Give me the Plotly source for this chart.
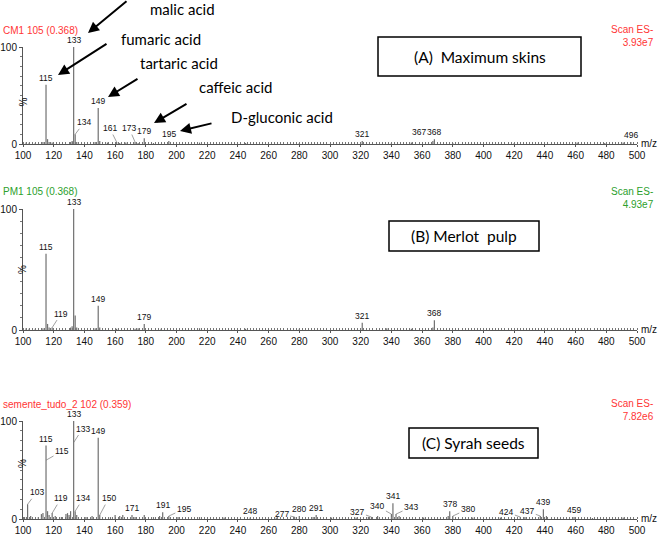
import plotly.graph_objects as go

W, H = 661, 535

# ---------------- data ----------------
# Panel A: Maximum skins (CM1)
a_mz = [102, 104, 108, 113, 115, 116, 117, 119, 131, 132, 133, 134, 135, 147, 149, 150, 155, 161, 163,
        167, 173, 175, 179, 185, 195, 215, 245, 280, 321, 340, 353, 367, 368, 380, 420, 461, 479, 491, 496]
a_int = [1.5, 1.2, 1, 2, 61, 5, 2, 1.5, 2, 3, 100, 10, 2, 2, 37, 3, 1.5, 2, 1,
         1.5, 2, 1, 6, 1, 3, 1.5, 1, 1, 3, 1, 1.5, 3, 5, 1, 1, 1.5, 1, 1.5, 2]
a_labels = ["115", "133", "134", "149", "161", "173", "179", "195", "321", "367", "368", "496"]

# Panel B: Merlot pulp (PM1)
b_mz = [102, 104, 108, 113, 115, 116, 117, 119, 131, 132, 133, 134, 135, 147, 149, 150, 161, 173,
        175, 179, 190, 215, 245, 280, 321, 337, 353, 367, 368]
b_int = [1.5, 1, 1, 1.5, 63, 5, 2, 2, 2, 3, 100, 12, 2, 1.5, 20, 2, 1, 1,
         1.5, 5, 1, 1.5, 1, 1, 6, 1.5, 1, 2, 8]
b_labels = ["115", "133", "119", "149", "179", "321", "368"]

# Panel C: Syrah seeds (semente_tudo_2)
c_mz = [101, 103, 105, 110, 112, 113, 115, 116, 117, 119, 121, 125, 128, 129, 130, 131, 133, 134, 135,
        141, 145, 149, 150, 157, 160, 163, 165, 171, 173, 179, 185, 189, 191, 195, 201, 215, 231, 248,
        265, 277, 280, 289, 291, 301, 317, 325, 327, 331, 340, 341, 343, 345, 361, 377, 378, 380,
        393, 411, 424, 427, 437, 439, 441, 459, 471, 491]
c_int = [2, 15, 3, 2, 5, 6, 75, 8, 4, 6, 3, 2, 5, 6, 4, 8, 100, 8, 4,
         2, 3, 83, 4, 2, 4, 3, 4, 4, 2, 4, 2, 3, 7, 3, 2, 2, 1.5, 1.5,
         1.5, 2, 3, 2, 4, 1.5, 1.5, 2, 2, 3, 5, 16, 5, 3, 1.5, 3, 8, 3,
         1.5, 1.5, 2, 2, 3, 10, 3, 2, 1, 1.5]
c_labels = ["133", "133b", "115", "115b", "149", "103", "119", "134", "150", "171", "191", "195", "248",
            "277", "280", "291", "327", "340", "341", "343", "378", "380", "424", "437", "439", "459"]

x_ticks = list(range(100, 501, 20))

# ---------------- styling ----------------
NUM_FONT = "Liberation Sans, Arial, sans-serif"
CALLOUT_FONT = "Lato, Open Sans, sans-serif"
RED = "#ff3535"
GREEN = "#2ca02c"
STICK = "#707070"

# label leader offsets in pixels (label relative to the point on the peak)
a_lead = {"134": (9, -12), "161": (-7, -14), "173": (-6, -14), "367": None}
b_lead = {"119": (9, -14)}
c_lead = {"133b": (9, -14, 0.78), "115b": (16, -9, 0.8), "103": (9, -12), "119": (9, -15),
          "134": (8, -13), "150": (9, -17), "195": (15, -7), "277": (-13, -3), "327": (-14, -5),
          "340": (-14, -8), "343": (15, -7), "380": (15, -7), "424": (-14, -5), "437": (-13, -5)}


def px(x):
    return x / W


def py(y):
    return 1 - y / H


panels = [
    dict(mz=a_mz, inten=a_int, labels=a_labels, lead=a_lead, ytop=47, ybot=144, color=RED,
         head="CM1 105 (0.368)", scan="Scan ES-<br>3.93e7"),
    dict(mz=b_mz, inten=b_int, labels=b_labels, lead=b_lead, ytop=209, ybot=330, color=GREEN,
         head="PM1 105 (0.368)", scan="Scan ES-<br>4.93e7"),
    dict(mz=c_mz, inten=c_int, labels=c_labels, lead=c_lead, ytop=421, ybot=519, color=RED,
         head="semente_tudo_2 102 (0.359)", scan="Scan ES-<br>7.82e6"),
]

X0, X1 = 23, 637

fig = go.Figure()
annotations = []
shapes = []
layout = {}

for i, p in enumerate(panels):
    n = "" if i == 0 else str(i + 1)
    xa, ya = "x" + n, "y" + n
    xs, ys = [], []
    for m, v in zip(p["mz"], p["inten"]):
        xs += [m, m, None]
        ys += [0, v, None]
    fig.add_trace(go.Scatter(x=xs, y=ys, mode="lines", line=dict(color=STICK, width=1.2),
                             xaxis=xa, yaxis=ya, showlegend=False, hoverinfo="skip"))

    layout["xaxis" + n] = dict(
        domain=[px(X0), px(X1)], range=[100, 500], anchor=ya, showgrid=False, zeroline=False,
        automargin=False,
        showline=True, linecolor="#555", linewidth=1, tickvals=x_ticks, ticks="outside", ticklen=2,
        tickcolor="#555", tickfont=dict(family=NUM_FONT, size=10, color="#111"),
        minor=dict(dtick=2, tick0=100, ticks="inside", ticklen=2, tickcolor="#777"),
    )
    layout["yaxis" + n] = dict(
        domain=[py(p["ybot"]), py(p["ytop"])], range=[0, 100], anchor=xa, showgrid=False,
        zeroline=False, automargin=False, showline=True, linecolor="#555", linewidth=1,
        tickvals=[0, 100], ticks="outside", ticklen=3, tickcolor="#555",
        tickfont=dict(family=NUM_FONT, size=10, color="#111"),
        minor=dict(dtick=10, ticks="outside", ticklen=2, tickcolor="#777"),
    )

    # header texts
    annotations.append(dict(xref="paper", yref="paper", x=px(1), y=py(p["ytop"] - 17), text=p["head"],
                            showarrow=False, xanchor="left", yanchor="middle",
                            font=dict(family=NUM_FONT, size=10, color=p["color"])))
    annotations.append(dict(xref="paper", yref="paper", x=px(656), y=py(p["ytop"] - 11), text=p["scan"],
                            showarrow=False, xanchor="right", yanchor="middle", align="right",
                            font=dict(family=NUM_FONT, size=10, color=p["color"])))
    # % and m/z
    annotations.append(dict(xref="paper", yref="paper", x=px(15), y=py((p["ytop"] + p["ybot"]) / 2),
                            text="%", textangle=-90, showarrow=False,
                            font=dict(family=NUM_FONT, size=10, color="#111")))
    annotations.append(dict(xref="paper", yref="paper", x=px(639), y=py(p["ybot"] - 1), text="m/z",
                            showarrow=False, xanchor="left", yanchor="middle",
                            font=dict(family=NUM_FONT, size=10, color="#111")))

    # peak labels
    lookup = dict(zip(p["mz"], p["inten"]))
    for lab in p["labels"]:
        m = int(lab.rstrip("b"))
        v = lookup[m]
        txt = lab.rstrip("b")
        font = dict(family=NUM_FONT, size=8.5, color="#111")
        if lab in p["lead"] and p["lead"][lab] is not None:
            off = p["lead"][lab]
            yv = v * off[2] if len(off) > 2 else v
            annotations.append(dict(xref=xa, yref=ya, x=m, y=yv, text=txt, showarrow=True,
                                    arrowhead=0, arrowwidth=0.7, arrowcolor="#777",
                                    ax=off[0], ay=off[1], font=font))
        elif lab == "367":
            annotations.append(dict(xref=xa, yref=ya, x=368, y=lookup[368], text=txt, showarrow=False,
                                    yanchor="bottom", xshift=-15, font=font))
        else:
            annotations.append(dict(xref=xa, yref=ya, x=m, y=v, text=txt, showarrow=False,
                                    yanchor="bottom", yshift=0, font=font))

# ----- callouts panel A -----
callouts = [("malic acid", 148, 9), ("fumaric acid", 119, 39), ("tartaric acid", 138, 63),
            ("caffeic acid", 197, 87), ("D-gluconic acid", 229, 117)]
for t, x, y in callouts:
    annotations.append(dict(xref="paper", yref="paper", x=px(x), y=py(y), text=t, showarrow=False,
                            xanchor="left", yanchor="middle",
                            font=dict(family=CALLOUT_FONT, size=15, color="#000")))

arrows = [((128, -2), (88, 33)), ((108, 43), (58, 75)), ((139, 78), (108, 97)),
          ((188, 103), (154, 123)), ((213, 123), (180, 131))]
for (tx, ty), (hx, hy) in arrows:
    annotations.append(dict(xref="paper", yref="paper", axref="pixel", ayref="pixel",
                            x=px(hx), y=py(hy), ax=tx - hx, ay=ty - hy, text="", showarrow=True,
                            arrowhead=2, arrowsize=1.1, arrowwidth=2, arrowcolor="#000"))

# ----- boxed titles -----
boxes = [("(A)  Maximum skins", 378, 37, 581, 76), ("(B) Merlot  pulp", 389, 221, 539, 251),
         ("(C) Syrah seeds", 409, 428, 538, 458)]
for t, x0, y0, x1, y1 in boxes:
    shapes.append(dict(type="rect", xref="paper", yref="paper", x0=px(x0), y0=py(y0), x1=px(x1), y1=py(y1),
                       line=dict(color="#000", width=1.5), fillcolor="rgba(0,0,0,0)"))
    annotations.append(dict(xref="paper", yref="paper", x=px((x0 + x1) / 2), y=py((y0 + y1) / 2), text=t,
                            showarrow=False, xanchor="center", yanchor="middle",
                            font=dict(family=CALLOUT_FONT, size=15.5, color="#000")))

fig.update_layout(width=W, height=H, autosize=False, margin=dict(l=0, r=0, t=0, b=0, autoexpand=False),
                  paper_bgcolor="white", plot_bgcolor="white", annotations=annotations, shapes=shapes,
                  **layout)

fig.write_html("out.html")
